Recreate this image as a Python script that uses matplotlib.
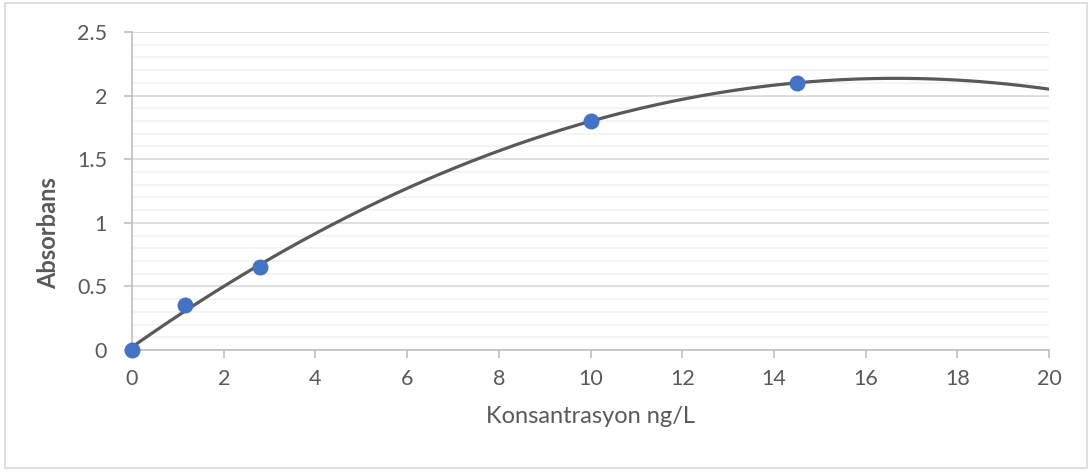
import numpy as np
import matplotlib
matplotlib.use("Agg")
from matplotlib import pyplot as plt
from matplotlib.patches import Rectangle
from matplotlib.ticker import MultipleLocator

# 数据：浓度与吸光度
konsantrasyon = [0, 1.15, 2.8, 10, 14.5]
absorbans = [0, 0.35, 0.65, 1.8, 2.1]

x_ticks = [0, 2, 4, 6, 8, 10, 12, 14, 16, 18, 20]
y_ticks = [0, 0.5, 1, 1.5, 2, 2.5]

plt.rcParams['font.family'] = ['Lato', 'DejaVu Sans']
text_color = '#595959'

fig = plt.figure(figsize=(10.9, 4.72), dpi=100)
ax = fig.add_axes([132 / 1090, 1 - 350 / 472, (1049 - 132) / 1090, (350 - 32) / 472])

# 外框
fig.patches.append(Rectangle((5 / 1090, 1 - 468 / 472), 1082 / 1090, 465 / 472,
                             transform=fig.transFigure, fill=False,
                             edgecolor='#d9d9d9', linewidth=1.2))

# 二次趋势线
coef = np.polyfit(konsantrasyon, absorbans, 2)
xs = np.linspace(0, 20, 300)
ax.plot(xs, np.polyval(coef, xs), color='#595959', linewidth=2.3, zorder=3)

ax.scatter(konsantrasyon, absorbans, s=110, color='#4472C4', zorder=4, clip_on=False)

ax.set_xlim(0, 20)
ax.set_ylim(0, 2.5)
ax.set_xticks(x_ticks)
ax.set_xticklabels([str(v) for v in x_ticks])
ax.set_yticks(y_ticks)
ax.set_yticklabels(['0', '0.5', '1', '1.5', '2', '2.5'])
ax.yaxis.set_minor_locator(MultipleLocator(0.1))

ax.grid(which='major', axis='y', color='#d9d9d9', linewidth=1.2)
ax.grid(which='minor', axis='y', color='#f2f2f2', linewidth=1.2)
ax.set_axisbelow(True)

for s in ['top', 'right']:
    ax.spines[s].set_visible(False)
ax.spines['left'].set_color('#bfbfbf')
ax.spines['bottom'].set_color('#bfbfbf')
ax.spines['left'].set_linewidth(1.2)
ax.spines['bottom'].set_linewidth(1.2)

ax.tick_params(axis='both', which='major', color='#bfbfbf', length=6, width=1.2,
               labelsize=15.5, labelcolor=text_color)
ax.tick_params(axis='x', which='major', pad=8)
ax.tick_params(axis='y', which='major', pad=12)
ax.tick_params(axis='y', which='minor', length=0)

ax.set_xlabel('Konsantrasyon ng/L', fontsize=17, color=text_color, labelpad=12)
ax.set_ylabel('Absorbans', fontsize=17, color=text_color, fontweight='bold', labelpad=14)
ax.yaxis.set_label_coords(-0.078, 1 - (233 - 32) / 318)

plt.savefig('out.png', dpi=100)
